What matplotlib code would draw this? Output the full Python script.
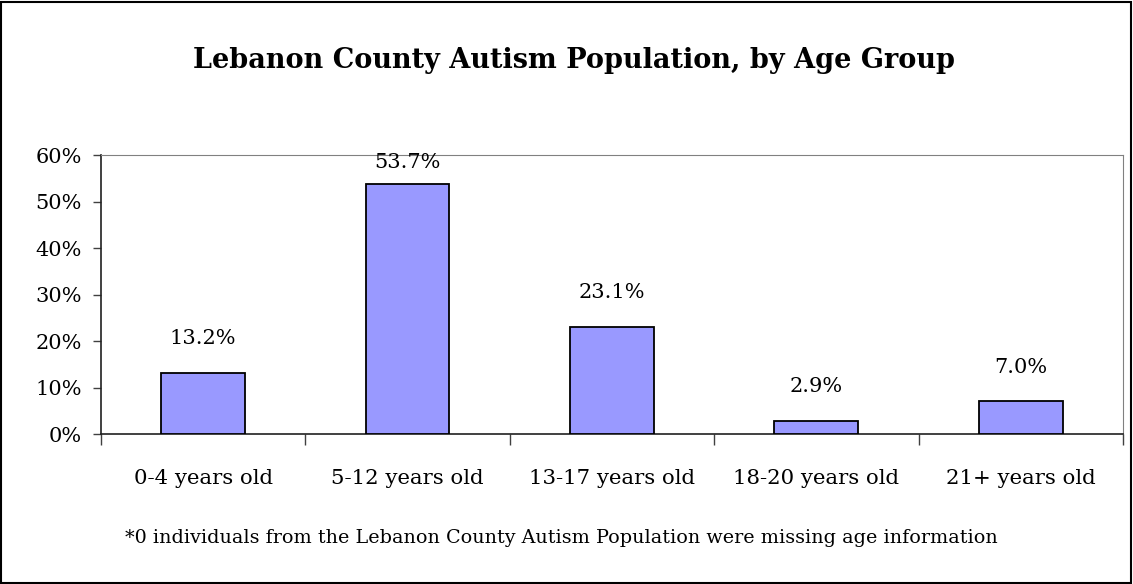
import matplotlib.pyplot as plt
from matplotlib.ticker import FuncFormatter, FixedLocator
from matplotlib.patches import Rectangle

categories = ['0-4 years old', '5-12 years old', '13-17 years old', '18-20 years old', '21+ years old']
shares = [13.2, 53.7, 23.1, 2.9, 7.0]
title = 'Lebanon County Autism Population, by Age Group'
note = '*0 individuals from the Lebanon County Autism Population were missing age information'

plt.rcParams['font.family'] = ['DejaVu Serif']

fig = plt.figure(figsize=(11.33, 5.84), dpi=100)
fig.patches.append(Rectangle((0.001, 0.002), 0.997, 0.995, transform=fig.transFigure,
                             fill=False, edgecolor='black', linewidth=1.5))
ax = fig.add_axes([0.0891, 0.2568, 0.902, 0.4777])

x = range(len(categories))
ax.bar(x, shares, width=0.41, color='#9999FF', edgecolor='black', linewidth=1.3, zorder=3)

ax.set_xlim(-0.5, len(categories) - 0.5)
ax.set_ylim(0, 60)
ax.yaxis.set_major_locator(FixedLocator(range(0, 61, 10)))
ax.yaxis.set_major_formatter(FuncFormatter(lambda v, p: f'{v:.0f}%'))
ax.xaxis.set_major_locator(FixedLocator([i - 0.5 for i in range(len(categories) + 1)]))
ax.xaxis.set_major_formatter(FuncFormatter(lambda v, p: ''))
ax.xaxis.set_minor_locator(FixedLocator(list(x)))
ax.set_xticklabels(categories, minor=True)
ax.tick_params(axis='x', which='minor', length=0, pad=25, labelsize=15.3)
ax.tick_params(axis='x', which='major', length=8, width=1, color='#404040')
ax.tick_params(axis='y', length=6, width=1, color='#404040', labelsize=15, pad=8)

for side in ['top', 'right']:
    ax.spines[side].set_color('#808080')
for side in ['left', 'bottom']:
    ax.spines[side].set_color('#202020')
    ax.spines[side].set_linewidth(1.2)

for i, v in zip(x, shares):
    y = min(v + 5.3, 56.3)
    ax.text(i, y, f'{v:.1f}%', ha='center', va='bottom', fontsize=15)

fig.text(0.507, 0.897, title, ha='center', va='center', fontsize=19.5, fontweight='bold')
fig.text(0.4956, 0.079, note, ha='center', va='center', fontsize=13.8)

fig.savefig('out.png', dpi=100)
